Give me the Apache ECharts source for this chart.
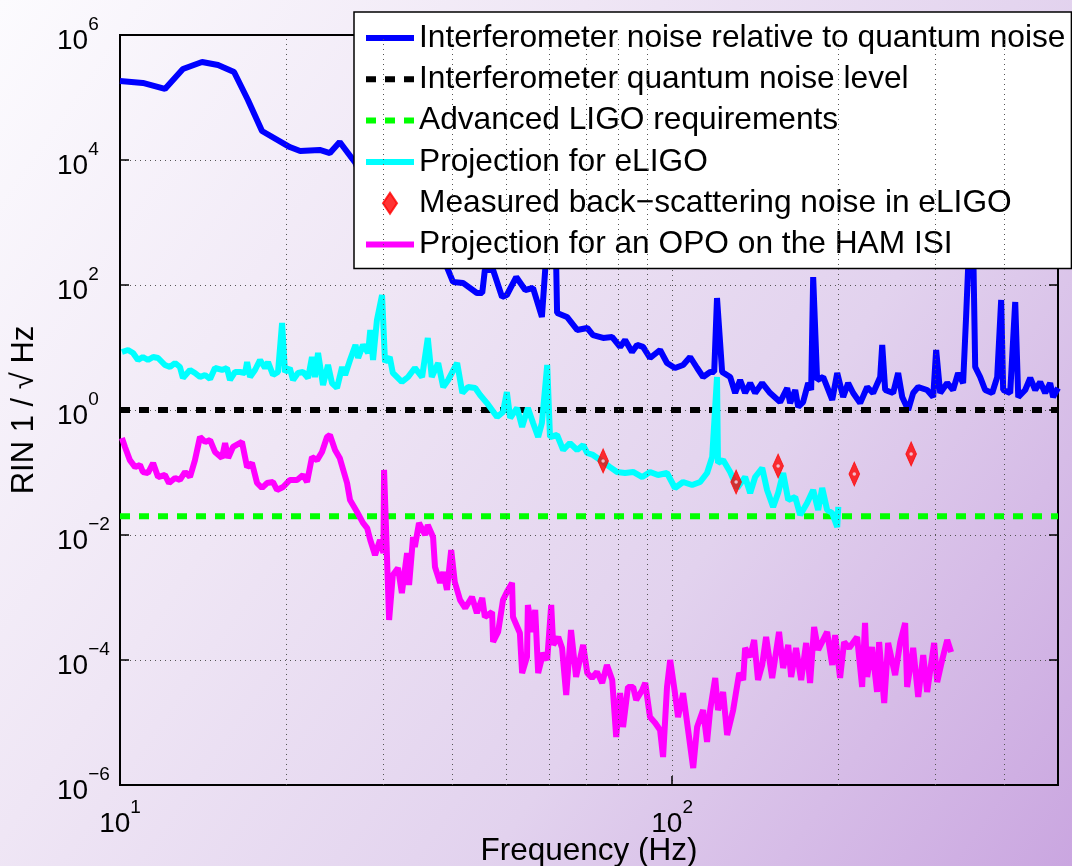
<!DOCTYPE html>
<html>
<head>
<meta charset="utf-8">
<script src="https://cdn.jsdelivr.net/npm/echarts@6/dist/echarts.min.js"></script>
<style>
html,body{margin:0;padding:0;}
#chart{width:1072px;height:866px;background:linear-gradient(125deg,#fcfbfe 0%,#efe6f5 35%,#e2d2ee 65%,#caa6e0 100%);}
</style>
</head>
<body>
<div id="chart"></div>
<script>
const seriesNames = [
  'Interferometer noise relative to quantum noise',
  'Interferometer quantum noise level',
  'Advanced LIGO requirements',
  'Projection for eLIGO',
  'Measured back\u2212scattering noise in eLIGO',
  'Projection for an OPO on the HAM ISI'
];
// [frequency Hz, RIN]
const interferometerNoise = [[10,1.84e5],[11.0,1.71e5],[12.06,1.37e5],[13.0,2.86e5],[14.08,3.70e5],[15.05,3.31e5],[16.09,2.56e5],[17.05,9.12e4],[18.08,2.91e4],[20.3,1.61e4],[21.2,1.39e4],[23.0,1.45e4],[24.0,1.29e4],[25.0,1.94e4],[26.7,8.95e3],[28.4,2.29e3],[30.8,1.32e3],[33.5,631],[36.4,363],[39.1,194],[40.1,112],[41.8,108],[44.3,74.5],[45.3,74.5],[45.8,174],[47.4,174],[49.2,64.3],[50.2,69.2],[52.2,134],[54.2,83.2],[56.0,89.5],[58.1,30.8],[58.9,174],[60.1,2290],[61.4,1580],[61.9,35.6],[64.5,30.8],[67.3,19.1],[70.2,20.5],[71.9,15.8],[75.0,14.2],[77.9,14.7],[80.5,10.2],[82.2,13.2],[84.6,8.47],[86.4,11.0],[88.6,10.2],[91.2,6.79],[95.1,9.12],[97.9,5.65],[101.2,4.70],[104.7,5.25],[107.8,7.05],[111.0,4.70],[113.8,3.37],[117.2,4.06],[119.2,4.06],[120.6,61.9],[123.2,4.06],[127.4,3.37],[130.1,1.87],[132.8,3.02],[135.6,1.87],[138.5,2.70],[141.4,1.87],[145.6,2.70],[150.5,1.87],[156.9,1.34],[161.6,2.25],[163.6,1.29],[167.1,2.09],[169.2,1.12],[172.7,1.34],[176.4,2.70],[178.6,2.09],[180.1,134],[181.6,134],[183.1,3.02],[187.8,3.37],[195.0,1.45],[199.1,3.91],[204.1,1.61],[208.4,2.70],[212.8,1.87],[219.1,1.29],[225.6,2.33],[231.3,1.87],[238.2,3.37],[240.2,11.0],[243.2,2.09],[251.4,1.87],[256.7,3.91],[261.1,1.61],[267.7,1.0],[273.3,1.87],[279.1,2.33],[289.7,2.09],[297.1,1.61],[300.8,9.12],[305.9,1.87],[315.0,2.70],[322.8,2.09],[329.6,3.91],[336.6,2.70],[340.8,30.8],[345.1,437],[351.0,437],[354.0,4.88],[361.4,3.37],[369.0,2.09],[380.0,1.87],[388.0,3.37],[394.5,57.5],[397.8,2.09],[409.6,1.87],[418.3,53.5],[423.6,1.61],[436.1,2.09],[445.3,3.25],[454.7,2.09],[464.2,2.81],[474.0,1.87],[483.9,2.70],[489.9,1.61],[500,2.25]];
const quantumNoiseLevel = [[10,1],[500,1]];
const aligoRequirement = [[10,0.02],[500,0.02]];
const eligoProjection = [[10.08,8.47],[10.34,9.12],[10.56,8.17],[10.78,6.31],[11.0,7.05],[11.24,6.31],[11.48,7.05],[11.72,6.79],[12.06,5.25],[12.32,4.88],[12.58,5.65],[12.84,4.88],[13.0,3.25],[13.39,4.37],[13.67,3.91],[13.96,3.37],[14.26,3.63],[14.56,3.13],[14.86,4.70],[15.3,4.37],[15.62,4.70],[15.82,3.02],[16.16,4.06],[16.5,4.06],[16.85,3.91],[16.99,5.86],[17.2,3.37],[17.56,4.37],[17.93,6.31],[18.31,4.70],[18.54,5.86],[18.93,3.63],[19.33,4.06],[19.66,24.7],[19.9,4.06],[20.3,4.70],[20.58,3.02],[21.01,3.91],[21.45,4.06],[21.91,3.25],[22.27,7.05],[22.55,3.37],[22.84,8.17],[23.32,2.51],[23.81,5.25],[24.21,2.70],[24.72,2.25],[25.25,4.88],[25.57,3.63],[26.1,6.31],[26.7,11.0],[27.0,6.79],[27.55,11.0],[28.14,8.17],[28.4,19.1],[28.73,6.31],[29.2,27.5],[29.83,69.2],[30.2,5.86],[30.8,7.05],[31.2,3.91],[32.4,2.81],[33.25,3.37],[34.2,4.70],[35.25,3.37],[36.1,14.2],[36.7,3.37],[37.7,5.65],[38.5,2.33],[39.3,3.02],[40.8,5.65],[41.7,1.87],[42.7,2.33],[44.0,2.25],[44.9,1.74],[46.2,1.29],[48.2,0.773],[49.4,0.929],[50.2,1.94],[50.9,0.745],[52.4,1.08],[53.5,0.535],[54.8,1.08],[56.0,0.619],[57.2,0.370],[58.1,0.619],[59.4,5.25],[60.1,0.370],[61.9,0.398],[63.5,0.229],[65.3,0.296],[67.3,0.229],[69.0,0.275],[70.2,0.205],[71.9,0.191],[75.0,0.147],[77.2,0.122],[79.5,0.102],[82.2,0.0982],[85.0,0.102],[88.3,0.0847],[91.2,0.102],[94.3,0.0912],[97.9,0.0982],[101.2,0.0565],[104.7,0.0705],[108.7,0.0631],[112.4,0.0705],[115.7,0.0982],[118.2,0.177],[120.6,3.37],[121.1,0.142],[123.7,0.158],[127.4,0.102],[131.2,0.0565],[135.6,0.0847],[138.5,0.047],[141.4,0.0847],[145.6,0.118],[148.6,0.0525],[152.4,0.0281],[155.6,0.047],[158.9,0.0982],[162.3,0.0363],[167.1,0.0406],[170.6,0.0209],[175.6,0.0325],[180.1,0.0525],[183.9,0.0251],[187.0,0.0565],[190.9,0.0251],[195.0,0.0225],[199.1,0.0134],[200,0.0281]];
const backscatterMeasured = [[75.0,0.153],[130.6,0.0705],[155.6,0.127],[213.8,0.0946],[271,0.198]];
const opoProjection = [[10.08,0.356],[10.21,0.256],[10.42,0.158],[10.65,0.122],[10.87,0.132],[11.0,0.102],[11.24,0.0982],[11.48,0.142],[11.72,0.0847],[12.06,0.0912],[12.27,0.0679],[12.58,0.0817],[12.84,0.0759],[13.12,0.102],[13.39,0.0847],[13.67,0.158],[13.96,0.370],[14.26,0.308],[14.56,0.331],[14.86,0.213],[15.3,0.171],[15.5,0.296],[15.7,0.171],[16.02,0.256],[16.63,0.308],[16.99,0.122],[17.34,0.142],[17.71,0.0679],[18.08,0.0565],[18.46,0.0679],[18.93,0.0705],[19.25,0.0525],[19.74,0.0586],[20.3,0.0759],[20.93,0.0759],[21.45,0.0912],[21.82,0.0705],[22.27,0.177],[22.75,0.158],[23.22,0.213],[23.71,0.370],[24.0,0.398],[24.52,0.229],[25.0,0.171],[25.78,0.0679],[26.1,0.0363],[26.88,0.0233],[27.55,0.0156],[28.03,0.0129],[28.4,0.00832],[28.97,0.00479],[29.58,0.00832],[30.0,0.00515],[30.08,0.110],[30.72,0.000437],[31.2,0.00229],[31.88,0.00296],[32.4,0.00118],[33.11,0.00515],[33.39,0.00158],[33.95,0.00929],[34.2,0.00643],[34.8,0.0156],[35.7,0.01],[36.1,0.0145],[36.9,0.00929],[37.2,0.00308],[38.0,0.00171],[38.5,0.00256],[39.1,0.00132],[39.8,0.00575],[40.4,0.00177],[41.3,0.000912],[42.2,0.000679],[43.4,0.00102],[44.3,0.000565],[45.3,0.000982],[45.8,0.000488],[47.2,0.000586],[47.4,0.000194],[48.4,0.000281],[49.4,0.000912],[50.2,0.00122],[51.3,0.00171],[51.5,0.000488],[53.0,0.00027],[53.5,6.19e-5],[54.6,0.000112],[54.8,0.000759],[55.8,0.000281],[56.5,0.000631],[57.2,6.19e-5],[58.4,0.000129],[59.4,1.0e-4],[60.4,0.000759],[60.9,0.000174],[62.2,0.000233],[63.2,0.000156],[64.3,2.75e-5],[65.6,0.000302],[67.0,5.35e-5],[69.0,0.000174],[70.2,6.19e-5],[71.6,5.15e-5],[73.1,6.43e-5],[74.7,4.29e-5],[76.2,8.32e-5],[77.9,4.79e-5],[79.2,5.86e-6],[80.5,2.96e-5],[81.5,8.47e-6],[83.2,3.70e-5],[85.0,3.70e-5],[86.1,2.29e-5],[88.3,3.31e-5],[89.4,4.29e-5],[91.2,1.22e-5],[93.2,9.82e-6],[95.1,7.59e-6],[96.3,2.81e-6],[97.9,3.70e-5],[99.2,1.0e-4],[101.2,2.96e-5],[102.5,1.22e-5],[104.7,2.96e-5],[106.9,7.59e-6],[109.2,1.87e-6],[111.0,8.47e-6],[113.8,1.58e-5],[115.7,4.88e-6],[117.2,1.58e-5],[119.7,5.15e-5],[121.1,1.58e-5],[123.7,3.08e-5],[125.8,6.31e-6],[129.0,1.58e-5],[132.3,6.19e-5],[134.5,4.79e-5],[135.6,0.000156],[138.5,0.000112],[140.8,0.000209],[143.1,4.79e-5],[145.6,8.32e-5],[148.0,0.000233],[151.8,5.15e-5],[156.2,0.000281],[158.9,7.45e-5],[162.3,0.000174],[164.3,5.35e-5],[167.7,0.000156],[171.3,4.79e-5],[174.9,0.000187],[177.8,4.29e-5],[180.8,0.000337],[183.9,0.000145],[190.9,0.000281],[195.0,8.32e-5],[197.4,0.000251],[201.5,5.15e-5],[204.9,0.000194],[209.3,0.000156],[216.3,0.000233],[220.9,3.70e-5],[223.6,0.000391],[225.6,5.35e-5],[230.2,0.000161],[235.1,3.08e-5],[237.1,0.000194],[242.2,2.05e-5],[246.2,0.000187],[253.5,5.75e-5],[259,0.000194],[264.3,0.000391],[266.5,3.70e-5],[273.3,0.000156],[279.1,2.56e-5],[285.0,0.00012],[289.7,3.08e-5],[298.3,0.000187],[302.1,4.45e-5],[308.4,1.0e-4],[315.0,0.000209],[320.2,0.000134]];
const xMinorGrid = [20,30,40,50,60,70,80,90,200,300,400];
const xRange = [10, 500];
const yRange = [1e-6, 1e6];

const FONT = 'Liberation Sans, Arial, Helvetica, sans-serif';
const LW = 6;
function expStr(v){
  const e = Math.round(Math.log10(v));
  return (e < 0 ? '\u2212' : '') + Math.abs(e);
}
const richLabel = {
  b: {fontSize: 28, fontFamily: FONT, color: '#000', lineHeight: 40, verticalAlign: 'bottom'},
  s: {fontSize: 19, fontFamily: FONT, color: '#000', lineHeight: 14, verticalAlign: 'top'}
};
const axisCommon = {
  axisLine: {show: true, lineStyle: {color: '#000', width: 2}},
  axisTick: {show: true, inside: true, length: 9, lineStyle: {color: '#000', width: 1.5}},
};
const gridLine = {color: '#555', width: 1, type: [1, 4]};
const hiddenSymbol = {color: 'rgba(0,0,0,0)', borderWidth: 0, opacity: 0};
const diamondPath = 'path://M0,-15L10,0L0,15L-10,0Z';

const chart = echarts.init(document.getElementById('chart'), null, {renderer: 'canvas'});
chart.setOption({
  animation: false,
  backgroundColor: 'transparent',
  textStyle: {fontFamily: FONT},
  grid: {left: 120, right: 14, top: 35, bottom: 81, outerBoundsMode: 'none', containLabel: false,
         show: true, borderColor: '#000', borderWidth: 2, backgroundColor: 'transparent'},
  legend: {
    show: true, orient: 'vertical', left: 354, top: 12,
    backgroundColor: '#ffffff', borderColor: '#000', borderWidth: 1.5,
    padding: [10, 6, 8, 9], itemGap: 9.3, itemWidth: 48, itemHeight: 21,
    selectedMode: false,
    textStyle: {fontSize: 31.7, fontFamily: FONT, color: '#000', lineHeight: 30},
    data: [
      {name: seriesNames[0], itemStyle: hiddenSymbol, lineStyle: {width: LW}},
      {name: seriesNames[1], itemStyle: hiddenSymbol, lineStyle: {width: LW}},
      {name: seriesNames[2], itemStyle: hiddenSymbol, lineStyle: {width: LW}},
      {name: seriesNames[3], itemStyle: hiddenSymbol, lineStyle: {width: LW}},
      {name: seriesNames[4], icon: diamondPath},
      {name: seriesNames[5], itemStyle: hiddenSymbol, lineStyle: {width: LW}}
    ]
  },
  xAxis: [{
    type: 'log', logBase: 10, min: xRange[0], max: xRange[1],
    name: 'Frequency (Hz)', nameLocation: 'middle', nameGap: 50, nameMoveOverlap: false,
    nameTextStyle: {fontSize: 31.5, fontFamily: FONT, color: '#000'},
    ...axisCommon,
    axisLabel: {
      margin: 13, color: '#000',
      formatter: function(v){
        const l = Math.log10(v);
        if (Math.abs(l - Math.round(l)) > 1e-6) return '';
        return '{b|10}{s|' + expStr(v) + '}';
      },
      rich: richLabel
    },
    splitLine: {show: true, lineStyle: gridLine}
  }, {
    type: 'log', logBase: 10, min: xRange[0], max: xRange[1], position: 'top',
    ...axisCommon, axisLabel: {show: false}, splitLine: {show: false}
  }],
  yAxis: [{
    type: 'log', logBase: 10, min: yRange[0], max: yRange[1], interval: 2,
    name: 'RIN 1 / \u221A Hz', nameLocation: 'middle', nameGap: 80, nameRotate: 90, nameMoveOverlap: false,
    nameTextStyle: {fontSize: 31, fontFamily: FONT, color: '#000'},
    ...axisCommon,
    axisLabel: {
      margin: 63, align: 'left', color: '#000',
      formatter: function(v){ return '{b|10}{s|' + expStr(v) + '}'; },
      rich: richLabel
    },
    splitLine: {show: true, lineStyle: gridLine}
  }, {
    type: 'log', logBase: 10, min: yRange[0], max: yRange[1], interval: 2, position: 'right',
    ...axisCommon, axisLabel: {show: false}, splitLine: {show: false}
  }],
  series: [
    {
      name: '__grid', type: 'line', data: [], z: 1, silent: true,
      markLine: {
        silent: true, symbol: ['none', 'none'], label: {show: false},
        lineStyle: gridLine, emphasis: {disabled: true},
        data: xMinorGrid.map(v => ({xAxis: v}))
      }
    },
    {
      name: seriesNames[0], type: 'line', data: interferometerNoise, showSymbol: false, symbol: 'none',
      lineStyle: {color: '#0000ff', width: LW}, itemStyle: {color: '#0000ff'}, z: 3
    },
    {
      name: seriesNames[1], type: 'line', data: quantumNoiseLevel, showSymbol: false, symbol: 'none',
      lineStyle: {color: '#000000', width: LW, type: [10, 9]}, itemStyle: {color: '#000000'}, z: 3
    },
    {
      name: seriesNames[2], type: 'line', data: aligoRequirement, showSymbol: false, symbol: 'none',
      lineStyle: {color: '#00ff00', width: LW, type: [10, 9]}, itemStyle: {color: '#00ff00'}, z: 3
    },
    {
      name: seriesNames[3], type: 'line', data: eligoProjection, showSymbol: false, symbol: 'none',
      lineStyle: {color: '#00ffff', width: LW}, itemStyle: {color: '#00ffff'}, z: 3
    },
    {
      name: seriesNames[4], type: 'scatter', data: backscatterMeasured,
      symbol: diamondPath, symbolSize: [16, 24], symbolKeepAspect: true,
      itemStyle: {color: '#ff0000', borderColor: '#ff0000', borderWidth: 1}, z: 4
    },
    {
      name: '__dot', type: 'scatter', data: backscatterMeasured, silent: true,
      symbol: 'circle', symbolSize: 3.5, itemStyle: {color: '#f4e4f4'}, z: 5
    },
    {
      name: seriesNames[5], type: 'line', data: opoProjection, showSymbol: false, symbol: 'none',
      lineStyle: {color: '#ff00ff', width: LW}, itemStyle: {color: '#ff00ff'}, z: 3
    }
  ]
});
</script>
</body>
</html>
